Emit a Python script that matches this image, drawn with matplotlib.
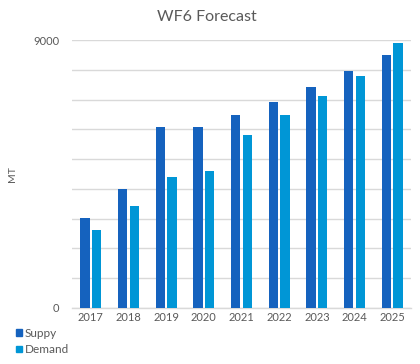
import matplotlib
matplotlib.use("Agg")
import matplotlib.pyplot as plt
import numpy as np

years = ["2017", "2018", "2019", "2020", "2021", "2022", "2023", "2024", "2025"]
supply = [3020, 4000, 6070, 6070, 6500, 6940, 7430, 7960, 8510]
demand = [2600, 3430, 4400, 4600, 5800, 6480, 7140, 7810, 8910]
series_names = ["Suppy", "Demand"]

plt.rcParams['font.family'] = ['Lato', 'DejaVu Sans']
TXT = '#595959'
C_SUP = '#1562BE'
C_DEM = '#0096D6'

fig = plt.figure(figsize=(4.2, 3.64), dpi=100)
ax = fig.add_axes([72/420, 1-307.7/364, (411-72)/420, (307.7-40.3)/364])

x = np.arange(len(years))
w = 0.245
off = 0.153
ax.bar(x - off, supply, width=w, color=C_SUP, label=series_names[0], zorder=3)
ax.bar(x + off, demand, width=w, color=C_DEM, label=series_names[1], zorder=3)

ax.set_xlim(-0.5, len(years) - 0.5)
ax.set_ylim(0, 9000)
ax.set_yticks([0, 9000])
ax.set_yticks(np.arange(0, 9001, 1000), minor=True)
ax.yaxis.grid(True, which='both', color='#D9D9D9', linewidth=1, zorder=0)
ax.set_xticks(x)
ax.set_xticklabels(years)
ax.tick_params(axis='both', which='both', length=0, colors=TXT, labelsize=8)
ax.tick_params(axis='x', pad=3)
ax.tick_params(axis='y', pad=9)
for s in ['top', 'right', 'left']:
    ax.spines[s].set_visible(False)
ax.spines['bottom'].set_color('#D9D9D9')
ax.spines['bottom'].set_linewidth(1)

ax.set_ylabel("MT", color=TXT, fontsize=7.5)
ax.yaxis.set_label_coords(-0.163, 0.5)

fig.text(207/420, 1-17/364, "WF6 Forecast", ha='center', va='center', color=TXT, fontsize=11.5)

h1 = plt.Rectangle((0, 0), 1, 1, color=C_SUP)
h2 = plt.Rectangle((0, 0), 1, 1, color=C_DEM)
fig.legend([h1, h2], series_names, loc='upper left', bbox_to_anchor=(16/420, 1-328/364),
           frameon=False, fontsize=8.5, handlelength=0.5, handleheight=0.5,
           handletextpad=0.25, labelspacing=0.45, labelcolor=TXT, borderaxespad=0, borderpad=0)

fig.savefig("out.png", dpi=100, facecolor='white')
